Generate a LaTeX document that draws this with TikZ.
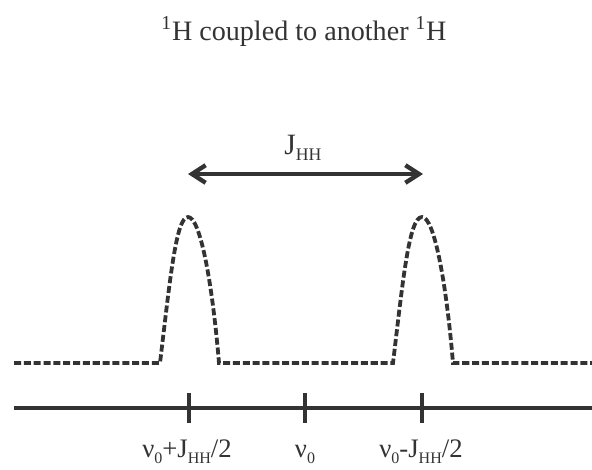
\documentclass[tikz,border=0pt]{standalone}
\usepackage{fontspec}
\setmainfont{Liberation Serif}
\usetikzlibrary{arrows.meta, positioning}
\definecolor{ink}{HTML}{333333}
\newcommand{\lsub}[1]{\raisebox{-0.5ex}{\scalebox{0.6}{#1}}}

\begin{document}
\begin{tikzpicture}[x=0.025cm, y=-0.025cm,
  lbl/.style={text=ink, inner sep=0pt, anchor=base},
  axisline/.style={draw=ink, line width=2.3pt},
  peakline/.style={draw=ink, line width=2.7pt, dash pattern=on 5pt off 2pt},
  jarrow/.style={draw=ink, line width=3.1pt, {Straight Barb[length=3.4mm, width=4.4mm]}-{Straight Barb[length=3.4mm, width=4.4mm]}}]

  \useasboundingbox (0,0) rectangle (592,469);

  % title
  \node[lbl, font=\fontsize{20}{24}\selectfont] (title) at (304,40)
    {\textsuperscript{1}H coupled to another \textsuperscript{1}H};

  % coupling constant
  \coordinate (j1) at (188,174);
  \coordinate (j2) at (423,174);
  \draw[jarrow] (j1) -- (j2);
  \node[lbl, font=\fontsize{21}{24}\selectfont] (jlabel) at (303,154) {J\lsub{HH}};

  % doublet
  \coordinate (pk1) at (188,217);
  \coordinate (pk2) at (422,217);
  \draw[peakline] (14,363) -- (160,363)
    .. controls (170,280) and (176,217) .. (pk1)
    .. controls (200,217) and (212,280) .. (219,363) -- (393,363)
    .. controls (403,280) and (409,217) .. (pk2)
    .. controls (434,217) and (446,280) .. (453,363) -- (592,363);

  % frequency axis
  \coordinate (axl) at (14,408);
  \coordinate (axr) at (592,408);
  \draw[axisline] (axl) -- (axr);
  \coordinate (tplus) at (189,408);
  \coordinate (tzero) at (305,408);
  \coordinate (tminus) at (422,408);
  \foreach \t in {tplus, tzero, tminus}
    \draw[axisline] (\t) ++(0,-15) -- ++(0,30);

  \node[lbl, font=\fontsize{19}{22}\selectfont] (lplus) at (187,457)
    {ν\lsub{0}+J\lsub{HH}/2};
  \node[lbl, font=\fontsize{19}{22}\selectfont] (lzero) at (305,457)
    {ν\lsub{0}};
  \node[lbl, font=\fontsize{19}{22}\selectfont] (lminus) at (421,457)
    {ν\lsub{0}-J\lsub{HH}/2};

\end{tikzpicture}
\end{document}
